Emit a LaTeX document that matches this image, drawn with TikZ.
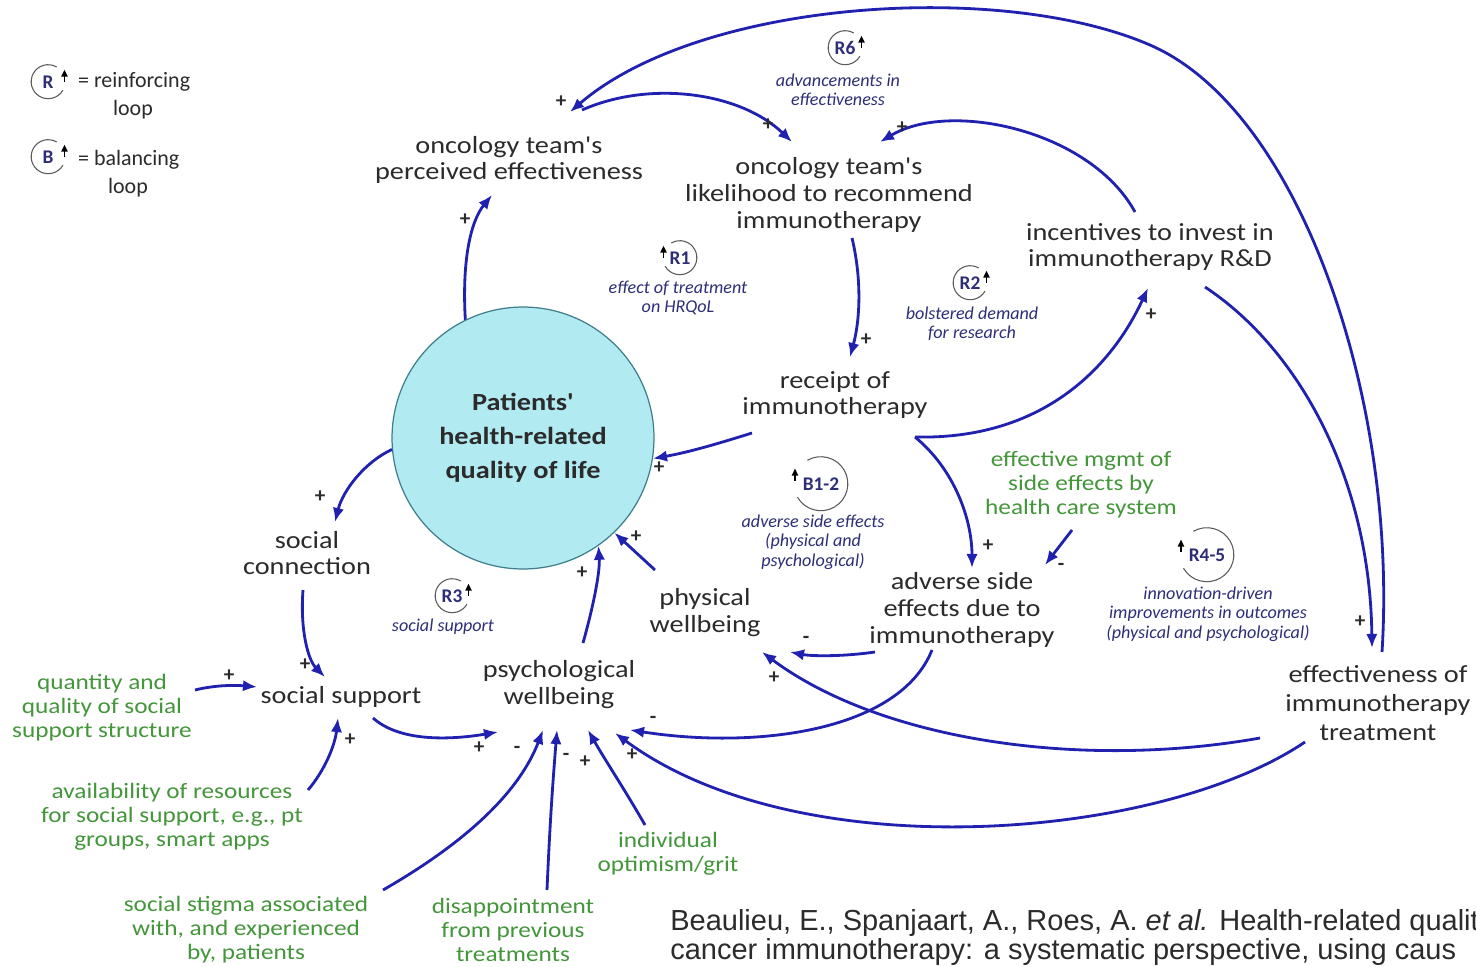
\documentclass[tikz,border=0pt]{standalone}
\usepackage{fontspec}
\setmainfont{Carlito}
\newfontfamily\widefont[FakeStretch=1.15]{Carlito}
\newfontfamily\citefont{Liberation Sans}
\usepackage{tikz}
\usetikzlibrary{arrows.meta,positioning,calc}
\definecolor{ink}{HTML}{2B2B2B}
\definecolor{arrowblue}{HTML}{2121B0}
\definecolor{exo}{HTML}{43963A}
\definecolor{loopink}{HTML}{2E2E78}
\definecolor{bubble}{HTML}{B2EAF2}
\definecolor{bubbleline}{HTML}{3D7F8C}
\definecolor{arcgray}{HTML}{5A5A5A}

\begin{document}
\begin{tikzpicture}[x=0.02cm,y=-0.02cm,>=Latex,
 var/.style={align=center,text=ink,inner sep=2pt,font=\widefont\fontsize{14}{15.3}\selectfont},
 exog/.style={align=center,text=exo,inner sep=2pt,font=\widefont\fontsize{12.5}{13.6}\selectfont},
 hrq/.style={circle,fill=bubble,draw=bubbleline,line width=0.7pt,minimum size=5.24cm,align=center,text=ink,font=\widefont\fontsize{14}{19.3}\selectfont\bfseries},
 loopcap/.style={align=center,text=loopink,inner sep=1pt,font=\fontsize{10.3}{11}\selectfont\itshape},
 loopid/.style={circle,inner sep=0pt,text=loopink,font=\fontsize{11}{12}\selectfont\bfseries},
 looparc/.style={draw=arcgray,line width=0.6pt},
 looptip/.style={draw=black,line width=0.9pt,-{Triangle[length=4pt,width=3.5pt]}},
 legtxt/.style={text=ink,inner sep=1pt,font=\fontsize{12.5}{13.6}\selectfont},
 pol/.style={inner sep=0pt,text=ink,font=\fontsize{12}{12}\selectfont\bfseries},
 cause/.style={draw=arrowblue,line width=1.6pt,-{Latex[length=8pt,width=6.5pt]}},
 cite/.style={anchor=west,text=ink,inner sep=0pt,font=\citefont\fontsize{16.5}{17}\selectfont}]
 \path[use as bounding box,fill=white] (0,0) rectangle (1476,966);

 \node[var] (persEff) at (509,160) {oncology team's\\perceived effectiveness};
 \node[var] (likely) at (829,195) {oncology team's\\likelihood to recommend\\immunotherapy};
 \node[var] (invest) at (1150,247) {incentives to invest in\\immunotherapy R\&D};
 \node[var] (receipt) at (835,395) {receipt of\\immunotherapy};
 \node[hrq] (hrqol) at (523,438) {Patients'\\health-related\\quality of life};
 \node[var] (socconn) at (307,553) {social\\connection};
 \node[var] (socsupp) at (341,697) {social support};
 \node[var] (psych) at (559,685) {psychological\\wellbeing};
 \node[var] (phys) at (705,613) {physical\\wellbeing};
 \node[var] (adverse) at (962,610) {adverse side\\effects due to\\immunotherapy};
 \node[var,font=\widefont\fontsize{14}{16.5}\selectfont] (effect) at (1378,703) {effectiveness of\\immunotherapy\\treatment};
 \node[exog] (mgmt) at (1081,485) {effective mgmt of\\side effects by\\health care system};
 \node[exog] (quant) at (102,708) {quantity and\\quality of social\\support structure};
 \node[exog] (avail) at (172,817) {availability of resources\\for social support, e.g., pt\\groups, smart apps};
 \node[exog] (stigma) at (246,930) {social stigma associated\\with, and experienced\\by, patients};
 \node[exog] (disapp) at (513,930) {disappointment\\from previous\\treatments};
 \node[exog] (optim) at (668,854) {individual\\optimism/grit};

 \foreach \nm/\pos/\lab/\rr/\sd [evaluate=\sd as \sa using int(90-30*\sd),
   evaluate=\sd as \ea using int(90+240*\sd),
   evaluate=\sd as \ta using int(90-72*\sd)] in
   {r6/{(845,48)}/R6/17/1, r1/{(680,258)}/R1/17/-1, r2/{(970,283)}/R2/17/1,
    b12/{(821,484)}/B1-2/27/-1, r45/{(1207,555)}/R4-5/27/-1, r3/{(452,596)}/R3/17/1,
    legr/{(48,82)}/R/17/1, legb/{(48,157)}/B/17/1} {
  \node[loopid,minimum size=\rr*0.04cm] (\nm) at \pos {\lab};
  \draw[looparc] (\nm.\sa) arc[start angle=\sa,end angle=\ea,radius=\rr*0.02cm];
  \draw[looptip] ([yshift=-3pt]\nm.\ta) -- ([yshift=4pt]\nm.\ta);
 }
 \node[loopcap] (r6cap) at (838,90) {advancements in\\effectiveness};
 \node[loopcap] (r1cap) at (678,298) {effect of treatment\\on HRQoL};
 \node[loopcap] (r2cap) at (972,324) {bolstered demand\\for research};
 \node[loopcap] (b12cap) at (813,542) {adverse side effects\\(physical and\\psychological)};
 \node[loopcap] (r45cap) at (1208,614) {innovation-driven\\improvements in outcomes\\(physical and psychological)};
 \node[loopcap] (r3cap) at (443,627) {social support};

 \node[legtxt,anchor=west] (legrtxt) at (76,82) {= reinforcing};
 \node[legtxt] (legrloop) at (133,110) {loop};
 \node[legtxt,anchor=west] (legbtxt) at (76,160) {= balancing};
 \node[legtxt] (legbloop) at (128,188) {loop};

 \draw[cause] (hrqol.116) .. controls (462,262) and (470,222) .. ([shift={(-17,35)}]persEff.center);
 \draw[cause] ([shift={(4,-51)}]effect.center) .. controls (1398,400) and (1300,110) .. (1150,45)
   .. controls (1000,-20) and (700,0) .. ([shift={(61,-48)}]persEff.center);
 \draw[cause] ([shift={(73,-50)}]persEff.center) .. controls (650,80) and (740,92) .. ([shift={(-37,-53)}]likely.center);
 \draw[cause] ([shift={(23,43)}]likely.center) .. controls (862,280) and (860,320) .. ([shift={(15,-38)}]receipt.center);
 \draw[cause] ([shift={(-15,-35)}]invest.center) .. controls (1090,130) and (950,100) .. ([shift={(51,-53)}]likely.center);
 \draw[cause] ([shift={(80,42)}]receipt.center) .. controls (1040,440) and (1110,370) .. ([shift={(-2,41)}]invest.center);
 \draw[cause] ([shift={(-83,38)}]receipt.center) .. controls (720,443) and (690,452) .. (hrqol.-9);
 \draw[cause] ([shift={(80,42)}]receipt.center) .. controls (955,470) and (972,520) .. ([shift={(10,-42)}]adverse.center);
 \draw[cause] ([shift={(-9,45)}]mgmt.center) -- ([shift={(83,-45)}]adverse.center);
 \draw[cause] ([shift={(55,40)}]invest.center) .. controls (1300,350) and (1370,480) .. ([shift={(-6,-55)}]effect.center);
 \draw[cause] ([shift={(-87,42)}]adverse.center) .. controls (840,657) and (810,656) .. ([shift={(85,39)}]phys.center);
 \draw[cause] ([shift={(-30,40)}]adverse.center) .. controls (900,730) and (760,750) .. ([shift={(71,45)}]psych.center);
 \draw[cause] ([shift={(-118,35)}]effect.center) .. controls (1080,770) and (880,740) .. ([shift={(57,39)}]phys.center);
 \draw[cause] ([shift={(-73,39)}]effect.center) .. controls (1160,840) and (800,870) .. ([shift={(56,48)}]psych.center);
 \draw[cause] ([shift={(-50,-43)}]phys.center) -- (hrqol.-46);
 \draw[cause] ([shift={(24,-42)}]psych.center) .. controls (595,600) and (600,570) .. (hrqol.-55);
 \draw[cause] (hrqol.185) .. controls (365,462) and (343,490) .. ([shift={(28,-31)}]socconn.center);
 \draw[cause] ([shift={(-4,37)}]socconn.center) .. controls (300,630) and (308,660) .. ([shift={(-16,-20)}]socsupp.center);
 \draw[cause] ([shift={(93,-18)}]quant.center) .. controls (215,685) and (235,685) .. ([shift={(-84,-10)}]socsupp.center);
 \draw[cause] ([shift={(136,-27)}]avail.center) .. controls (325,770) and (335,745) .. ([shift={(-3,21)}]socsupp.center);
 \draw[cause] ([shift={(32,21)}]socsupp.center) .. controls (400,742) and (450,740) .. ([shift={(-61,47)}]psych.center);
 \draw[cause] ([shift={(137,-40)}]stigma.center) .. controls (470,840) and (520,790) .. ([shift={(-16,45)}]psych.center);
 \draw[cause] ([shift={(34,-40)}]disapp.center) .. controls (550,820) and (553,780) .. ([shift={(-2,45)}]psych.center);
 \draw[cause] ([shift={(-23,-29)}]optim.center) .. controls (625,790) and (605,760) .. ([shift={(29,45)}]psych.center);

 \foreach \p/\s [count=\i] in {{(465,220)}/+, {(561,102)}/+, {(768,125)}/+, {(866,340)}/+,
   {(902,128)}/+, {(1151,315)}/+, {(659,468)}/+, {(988,546)}/+, {(1061,567)}/-,
   {(1360,622)}/+, {(806,640)}/-, {(653,720)}/-, {(774,678)}/+, {(632,755)}/+,
   {(636,537)}/+, {(582,573)}/+, {(320,497)}/+, {(305,665)}/+, {(229,676)}/+,
   {(350,740)}/+, {(479,748)}/+, {(517,750)}/-, {(566,757)}/-, {(585,762)}/+}
  \node[pol] (sgn\i) at \p {\s};

 \node[cite] (citeA) at (670,923) {Beaulieu, E., Spanjaart, A., Roes, A. \textit{et al.} Health-related qualit};
 \node[cite] (citeB) at (670,952) {cancer immunotherapy: a systematic perspective, using caus};
\end{tikzpicture}
\end{document}
